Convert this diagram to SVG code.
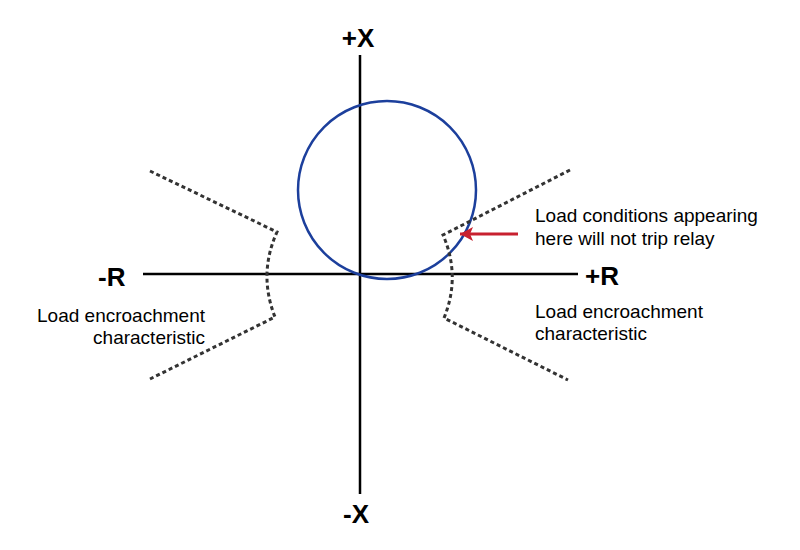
<svg xmlns="http://www.w3.org/2000/svg" width="800" height="550" viewBox="0 0 800 550">
<style>
.axis{stroke:#000;stroke-width:2.5;fill:none}
.dash{stroke:#333;stroke-width:3;stroke-dasharray:4 3;fill:none}
.lbl{font-family:"Liberation Sans",Arial,sans-serif;font-size:19px;fill:#000}
.ax{font-family:"Liberation Sans",Arial,sans-serif;font-size:26px;font-weight:bold;fill:#000}
</style>
<defs>
<marker id="ah" markerWidth="13" markerHeight="14" refX="13" refY="7" orient="auto" markerUnits="userSpaceOnUse" viewBox="0 0 13 14">
<path d="M0,0 L13,7 L0,14 L3,7 z" fill="#c8202f"/>
</marker>
</defs>
<rect width="800" height="550" fill="#fff"/>
<g id="axes">
<line class="axis" x1="360" y1="55" x2="360" y2="494"/>
<line class="axis" x1="143" y1="274" x2="578" y2="274"/>
<text class="ax" x="358" y="47" text-anchor="middle">+X</text>
<text class="ax" x="356" y="523" text-anchor="middle">-X</text>
<text class="ax" x="585" y="285">+R</text>
<text class="ax" x="98" y="286">-R</text>
</g>
<g id="circle">
<circle cx="387" cy="190" r="89" fill="none" stroke="#1c3f9c" stroke-width="2.5"/>
</g>
<g id="left-characteristic">
<path class="dash" d="M150,171 L277,232 Q258,274 275,317 L150,379"/>
</g>
<g id="right-characteristic">
<path class="dash" d="M570,170 L443,235 Q461,276 444,318 L568,380"/>
</g>
<g id="connectors">
<line x1="518" y1="234" x2="460" y2="234" stroke="#c8202f" stroke-width="3" marker-end="url(#ah)"/>
</g>
<g id="labels">
<text class="lbl" x="535" y="222">Load conditions appearing</text>
<text class="lbl" x="535" y="245">here will not trip relay</text>
<text class="lbl" x="535" y="318">Load encroachment</text>
<text class="lbl" x="535" y="340">characteristic</text>
<text class="lbl" x="205" y="322" text-anchor="end">Load encroachment</text>
<text class="lbl" x="205" y="344" text-anchor="end">characteristic</text>
</g>
</svg>
